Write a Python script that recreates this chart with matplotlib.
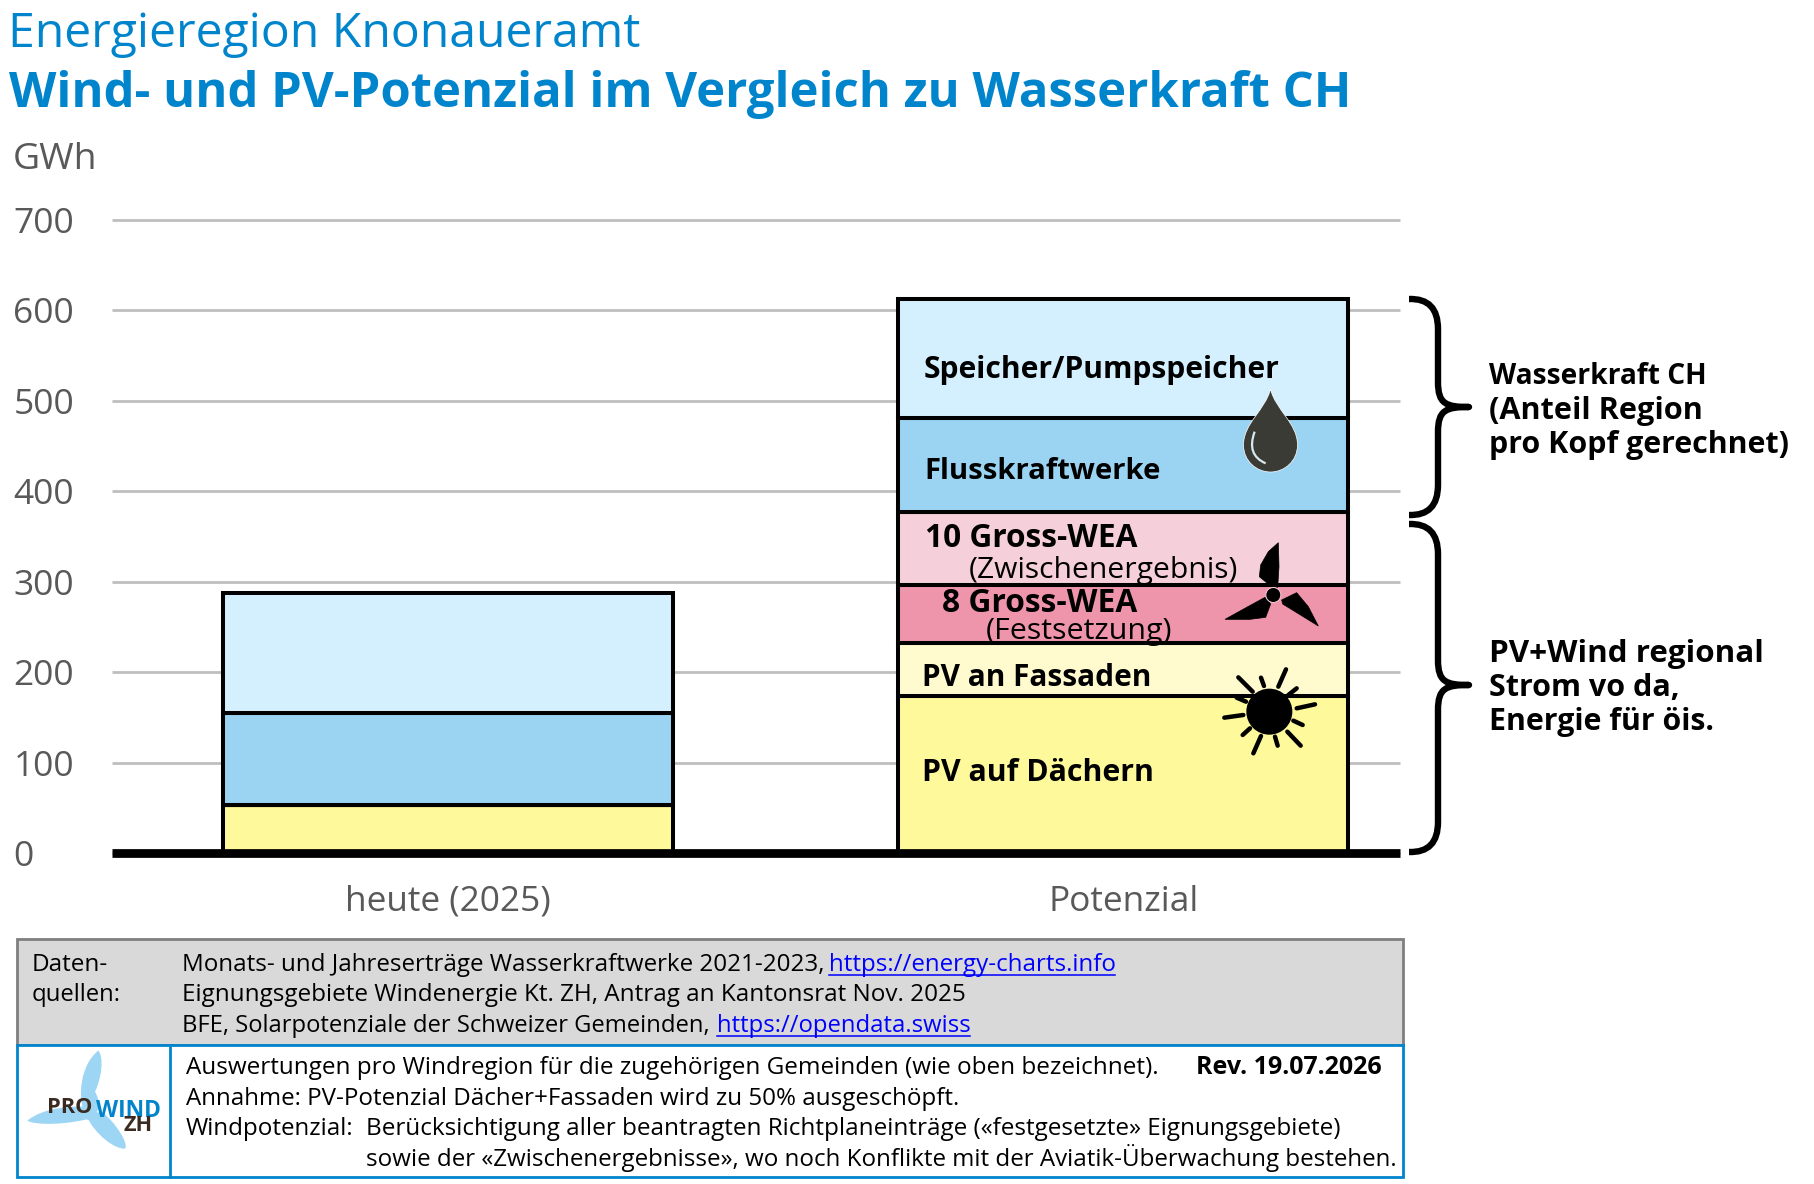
import matplotlib
matplotlib.use('Agg')
import matplotlib.pyplot as plt
from matplotlib.path import Path
from matplotlib.patches import PathPatch, Circle, Rectangle

# values (GWh)
categories = ['heute (2025)', 'Potenzial']
yticks = [0, 100, 200, 300, 400, 500, 600, 700]
pv_daecher = [53, 174]
pv_fassaden = [0, 58]
wea_8 = [0, 64]
wea_10 = [0, 81]
fluss = [102, 104]
speicher = [133, 132]

series = [pv_daecher, pv_fassaden, wea_8, wea_10, fluss, speicher]
colors = ['#FEF99B', '#FFFBCF', '#EE95AC', '#F5CFD9', '#9BD3F3', '#D4F0FF']

W, H = 1814, 1184
BLUE = '#0084CC'
GREY = '#595959'
plt.rcParams['font.family'] = ['Open Sans', 'DejaVu Sans']

fig = plt.figure(figsize=(W / 100, H / 100), dpi=100)
ax = fig.add_axes([112 / W, (H - 853) / H, (1400 - 112) / W, (853 - 220) / H])

bottom = [0, 0]
for vals, col in zip(series, colors):
    ax.bar([0, 1], vals, width=0.667, bottom=bottom, color=col, edgecolor='black',
           linewidth=2.9, zorder=3)
    bottom = [b + v for b, v in zip(bottom, vals)]

ax.set_xlim(-0.498, 1.41)
ax.set_ylim(0, 700)
ax.set_xticks([0, 1])
ax.set_xticklabels(categories, fontsize=25.4, color=GREY)
ax.set_yticks(yticks)
ax.set_yticklabels([str(t) for t in yticks], fontsize=25.5, color=GREY, ha='left')
ax.tick_params(axis='y', length=0, pad=71)
ax.tick_params(axis='x', length=0, pad=23)
for s in ax.spines.values():
    s.set_visible(False)
ax.yaxis.grid(True, color='#BFBFBF', linewidth=2, zorder=0)
for gl in ax.get_ygridlines():
    gl.set_clip_on(False)
    gl.set_solid_capstyle('butt')
ax.axhline(0, color='black', linewidth=6.3, clip_on=False, zorder=5, solid_capstyle='butt')

# overlay in pixel coordinates for annotation, icons and the footer
ov = fig.add_axes([0, 0, 1, 1], zorder=10)
ov.set_xlim(0, W)
ov.set_ylim(H, 0)
ov.axis('off')
ov.patch.set_alpha(0)
renderer = fig.canvas.get_renderer()


def put(s, x, base, right, size, weight='normal', color='black', family=None):
    # left/baseline text, size brought down so the width ends at `right`
    t = ov.text(x, base, s, fontsize=size, fontweight=weight, color=color,
                ha='left', va='baseline', zorder=8)
    if family:
        t.set_family(family)
    w = t.get_window_extent(renderer).width
    t.set_fontsize(size * (right - x) / w)
    return t


def link(s, x, base, right, size):
    put(s, x, base, right, size, color='#0000FF')
    ov.plot([x, right], [base + 3.5, base + 3.5], color='#0000FF', linewidth=1.1, zorder=8)


def brace(x0, xv, xt, y0, ym, y1):
    verts = [(x0, y0), (xv, y0 - 1), (xv, y0 + 30), (xv, ym - 25),
             (xv, ym - 3), (xv + 8, ym), (xt, ym),
             (xv + 8, ym), (xv, ym + 3), (xv, ym + 25), (xv, y1 - 30),
             (xv, y1 + 1), (x0, y1)]
    codes = [Path.MOVETO, Path.CURVE3, Path.CURVE3, Path.LINETO,
             Path.CURVE4, Path.CURVE4, Path.CURVE4,
             Path.CURVE4, Path.CURVE4, Path.CURVE4, Path.LINETO,
             Path.CURVE3, Path.CURVE3]
    ov.add_patch(PathPatch(Path(verts, codes), fill=False, edgecolor='black',
                           linewidth=4.6, capstyle='butt', joinstyle='round'))


def z3(pts):
    # points taken from a 3x crop starting at (880, 380)
    return [(880 + x / 3, 380 + y / 3) for x, y in pts]


def z4(pts):
    # points taken from a 3x crop starting at (0, 1020)
    return [(x / 3, 1020 + y / 3) for x, y in pts]


# titles
put('Energieregion Knonaueramt', 8, 47, 639, 38, color=BLUE)
put('Wind- und PV-Potenzial im Vergleich zu Wasserkraft CH', 9, 107, 1350, 38,
    weight='bold', color=BLUE)
put('GWh', 13, 169, 98, 26, color=GREY)

# labels in the bar
put('Speicher/Pumpspeicher', 924, 378, 1280, 24, weight='bold')
put('Flusskraftwerke', 924, 479, 1161, 24, weight='bold')
put('10 Gross-WEA', 925, 547, 1138, 24, weight='bold')
put('(Zwischenergebnis)', 969, 578, 1239, 24)
put('8 Gross-WEA', 942, 612, 1137, 24, weight='bold')
put('(Festsetzung)', 986, 639, 1173, 24)
put('PV an Fassaden', 922, 686, 1151, 24, weight='bold')
put('PV auf Dächern', 922, 781, 1154, 24, weight='bold')

# braces and their text
brace(1409, 1438, 1469, 299, 407, 515)
brace(1409, 1438, 1469, 524, 685, 852)
put('Wasserkraft CH', 1489, 384, 1707, 24, weight='bold')
put('(Anteil Region', 1489, 419, 1703, 24, weight='bold')
put('pro Kopf gerechnet)', 1489, 453, 1790, 24, weight='bold')
put('PV+Wind regional', 1489, 662, 1764, 24, weight='bold')
put('Strom vo da,', 1489, 696, 1680, 24, weight='bold')
put('Energie für öis.', 1489, 730, 1714, 24, weight='bold')

# drop
cx, cy = 1270.5, 445
drop = [(cx, 389), (cx + 5, 410), (cx + 27, cy - 22), (cx + 27, cy),
        (cx + 27, cy + 16), (cx + 14, cy + 27), (cx, cy + 27),
        (cx - 14, cy + 27), (cx - 27, cy + 16), (cx - 27, cy),
        (cx - 27, cy - 22), (cx - 5, 410), (cx, 389)]
drop_codes = [Path.MOVETO] + [Path.CURVE4] * 12
ov.add_patch(PathPatch(Path(drop, drop_codes), facecolor='#3B3B36', edgecolor='white',
                       linewidth=0.5, zorder=6))
shine = z3([(1124, 155), (1098, 225), (1157, 250)])
ov.add_patch(PathPatch(Path(shine, [Path.MOVETO, Path.CURVE3, Path.CURVE3]), fill=False,
                       edgecolor='#D8E8EE', linewidth=1.6, zorder=7))

# wind turbine
blades = [
    [(1195, 488), (1197, 560), (1193, 622), (1172, 618), (1138, 590), (1142, 555), (1165, 515)],
    [(1035, 718), (1100, 682), (1155, 652), (1172, 672), (1157, 712), (1110, 718)],
    [(1315, 738), (1285, 680), (1250, 638), (1205, 660), (1208, 672)],
]
for b in blades:
    ov.fill(*zip(*z3(b)), color='black', linewidth=0.5, zorder=6)
ov.add_patch(Circle(z3([(1180, 645)])[0], 7.5, facecolor='black', edgecolor='#F5CFD9',
                    linewidth=0.7, zorder=7))

# sun
ov.add_patch(Circle(z3([(1168, 995)])[0], 23, facecolor='black', zorder=6))
rays = [
    [(1033, 1013), (1090, 1005)], [(1250, 985), (1305, 973)],
    [(1218, 868), (1195, 920)], [(1120, 1120), (1143, 1068)],
    [(1075, 892), (1118, 935)], [(1222, 1055), (1262, 1097)],
    [(1143, 893), (1152, 918)], [(1070, 953), (1098, 965)],
    [(1225, 945), (1250, 925)], [(1240, 1022), (1268, 1035)],
    [(1088, 1065), (1110, 1045)], [(1185, 1070), (1193, 1097)],
]
for r in rays:
    ov.plot(*zip(*z3(r)), color='black', linewidth=3.2, solid_capstyle='round', zorder=6)

# footer boxes
ov.add_patch(Rectangle((17, 939), 1386, 106, facecolor='#D9D9D9', edgecolor='#7F7F7F', linewidth=2))
ov.add_patch(Rectangle((17, 1045), 1386, 132, facecolor='white', edgecolor=BLUE, linewidth=2))
ov.plot([170, 170], [1045, 1177], color=BLUE, linewidth=2)

put('Daten-', 32, 971, 108, 18)
put('quellen:', 32, 1001, 121, 18)
put('Monats- und Jahreserträge Wasserkraftwerke 2021-2023,', 182, 971, 822, 18)
link('https://energy-charts.info', 829, 971, 1115, 18)
put('Eignungsgebiete Windenergie Kt. ZH, Antrag an Kantonsrat Nov. 2025', 182, 1001, 966, 18)
put('BFE, Solarpotenziale der Schweizer Gemeinden,', 182, 1032, 709, 18)
link('https://opendata.swiss', 717, 1032, 970, 18)

put('Auswertungen pro Windregion für die zugehörigen Gemeinden (wie oben bezeichnet).',
    186, 1074, 1155, 18)
put('Rev. 19.07.2026', 1196, 1074, 1382, 18, weight='bold')
put('Annahme: PV-Potenzial Dächer+Fassaden wird zu 50% ausgeschöpft.', 186, 1105, 958, 18)
put('Windpotenzial:', 186, 1135, 353, 18)
put('Berücksichtigung aller beantragten Richtplaneinträge («festgesetzte» Eignungsgebiete)',
    366, 1135, 1340, 18)
put('sowie der «Zwischenergebnisse», wo noch Konflikte mit der Aviatik-Überwachung bestehen.',
    366, 1166, 1396, 18)

# logo
logo_blades = [
    [(262, 300), (225, 230), (245, 130), (295, 92), (312, 110), (305, 175), (285, 215), (300, 240), (305, 285), (262, 300)],
    [(290, 262), (220, 255), (130, 262), (82, 302), (100, 315), (200, 318), (290, 290), (290, 280), (290, 270), (290, 262)],
    [(258, 285), (285, 345), (345, 388), (375, 386), (388, 372), (345, 305), (305, 275), (295, 278), (270, 280), (258, 285)],
]
for b in logo_blades:
    p = Path(z4(b), [Path.MOVETO] + [Path.CURVE4] * 9)
    ov.add_patch(PathPatch(p, facecolor='#9DD5F4', edgecolor='none', zorder=3))
put('PRO', 47, 1113, 92, 13, weight='bold', color='#3A2A20')
put('WIND', 96, 1117, 161, 22, weight='bold', color=BLUE, family=['Liberation Sans Narrow', 'Open Sans'])
put('ZH', 124, 1131, 153, 12, weight='bold', color='#3A2A20')

fig.savefig('out.png', dpi=100)
